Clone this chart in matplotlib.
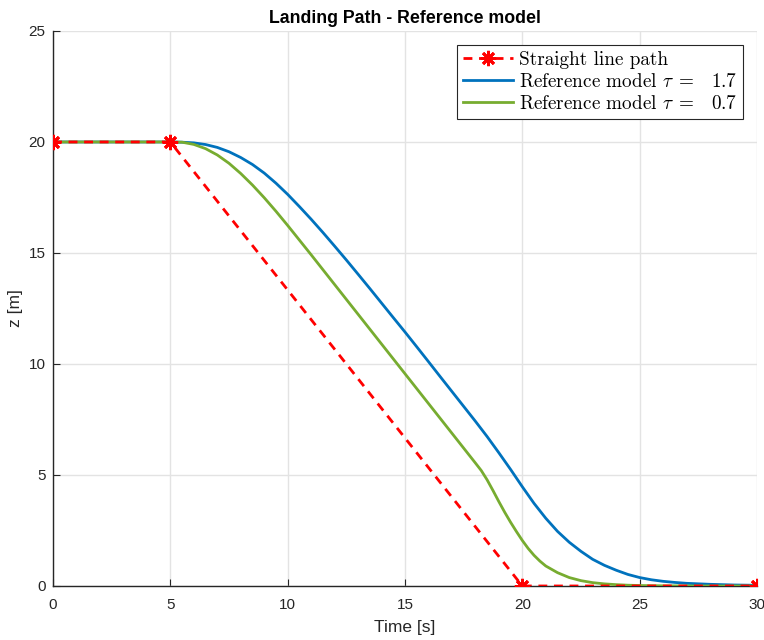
import matplotlib
matplotlib.use("Agg")
import matplotlib.pyplot as plt

# straight line reference path (waypoints)
t_line = [0, 5, 20, 30]
z_line = [20, 20, 0, 0]

# reference model tau = 1.7
t_blue = [0, 5, 5.5, 6, 6.5, 7, 7.5, 8, 8.5, 9, 9.5, 10, 10.5, 11, 11.5, 12,
          12.5, 13, 13.5, 14, 14.5, 15, 15.5, 16, 16.5, 17, 17.5, 18, 18.5,
          19, 19.5, 20, 20.5, 21, 21.5, 22, 22.5, 23, 23.5, 24, 24.5, 25,
          25.5, 26, 26.5, 27, 28, 29, 30]
z_blue = [20, 20, 19.99, 19.96, 19.885, 19.755, 19.56, 19.3, 18.985, 18.6,
          18.145, 17.64, 17.09, 16.52, 15.925, 15.31, 14.685, 14.045, 13.4,
          12.745, 12.09, 11.44, 10.775, 10.105, 9.43, 8.76, 8.09, 7.42, 6.73,
          6.0, 5.25, 4.47, 3.72, 3.05, 2.46, 1.97, 1.56, 1.2, 0.93, 0.71,
          0.52, 0.38, 0.28, 0.21, 0.16, 0.12, 0.075, 0.045, 0.03]

# reference model tau = 0.7
t_green = [0, 5, 5.5, 6, 6.5, 7, 7.5, 8, 8.5, 9, 9.5, 10, 10.5, 11, 12, 13,
           14, 15, 16, 17, 17.5, 18, 18.25, 18.5, 18.75, 19, 19.25, 19.5,
           19.75, 20, 20.25, 20.5, 20.75, 21, 21.5, 22, 22.5, 23, 23.5, 24,
           24.5, 25, 26, 27, 28, 29, 30]
z_green = [20, 20, 19.99, 19.89, 19.7, 19.415, 19.04, 18.58, 18.06, 17.49,
           16.88, 16.24, 15.58, 14.92, 13.58, 12.24, 10.9, 9.56, 8.22, 6.88,
           6.21, 5.54, 5.2, 4.78, 4.3, 3.8, 3.32, 2.87, 2.45, 2.05, 1.69,
           1.38, 1.12, 0.9, 0.6, 0.38, 0.24, 0.15, 0.095, 0.06, 0.035, 0.02,
           0.007, 0.002, 0, 0, 0]

xticks = [0, 5, 10, 15, 20, 25, 30]
yticks = [0, 5, 10, 15, 20, 25]

plt.rcParams['mathtext.fontset'] = 'cm'

fig = plt.figure(figsize=(7.64, 6.4), dpi=100)
ax = fig.add_axes([0.0694, 0.0844, 0.9214, 0.8672])

ax.plot(t_line, z_line, color='#ff0000', lw=2, dashes=(3.2, 2.4),
        marker=(8, 2, 0), ms=11, mew=2, label='Straight line path', zorder=4)
ax.plot(t_blue, z_blue, color='#0072bd', lw=2, solid_joinstyle='round',
        label=r'Reference model $\tau\;=\;\;\;1.7$', zorder=3)
ax.plot(t_green, z_green, color='#77ac30', lw=2, solid_joinstyle='round',
        label=r'Reference model $\tau\;=\;\;\;0.7$', zorder=3)

ax.set_xlim(0, 30)
ax.set_ylim(0, 25)
ax.set_xticks(xticks)
ax.set_yticks(yticks)
ax.grid(True, color='#e3e3e3', lw=1)
ax.set_axisbelow(True)
for s in ['top', 'right']:
    ax.spines[s].set_visible(False)
for s in ['left', 'bottom']:
    ax.spines[s].set_color('#262626')
    ax.spines[s].set_linewidth(1)
ax.tick_params(direction='in', length=5, colors='#262626', labelsize=11)
ax.tick_params(axis='x', pad=8.5)
ax.tick_params(axis='y', pad=5.5)
for lab in ax.get_xticklabels() + ax.get_yticklabels():
    lab.set_family('Liberation Sans')

ax.set_xlabel('Time [s]', fontsize=12.5, family='Liberation Sans',
              color='#262626', labelpad=6)
ax.set_ylabel('z [m]', fontsize=12.5, family='Liberation Sans',
              color='#262626', labelpad=4)
ax.set_title('Landing Path - Reference model', fontsize=12.75,
             fontweight='bold', family='Liberation Sans', pad=6)

leg = ax.legend(loc='upper right', fancybox=False, framealpha=1,
                edgecolor='#262626', prop={'family': 'cmr10', 'size': 13.8},
                handlelength=2.6, borderaxespad=0.75, labelspacing=0.2,
                handletextpad=0.3, borderpad=0.3)
leg.get_frame().set_linewidth(0.8)

fig.savefig('out.png', dpi=100)
